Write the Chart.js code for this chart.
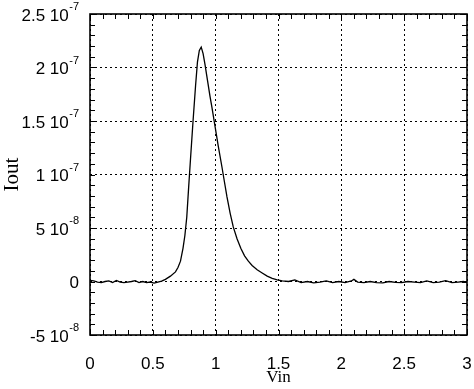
<!DOCTYPE html>
<html>
<head>
<meta charset="utf-8">
<script src="https://cdn.jsdelivr.net/npm/chart.js@4.4.1/dist/chart.umd.min.js"></script>
<style>
  html, body { margin: 0; padding: 0; background: #fff; }
  #wrap { width: 474px; height: 389px; }
</style>
</head>
<body>
<div id="wrap"><canvas id="c"></canvas></div>
<script>
// Vin (V) and Iout (nA, i.e. 1e-9 A)
const vin = [
  0.00, 0.03, 0.06, 0.09, 0.12, 0.15, 0.18, 0.21, 0.24, 0.27,
  0.30, 0.33, 0.36, 0.39, 0.42, 0.45, 0.48, 0.51, 0.54, 0.57,
  0.60, 0.64, 0.68, 0.70, 0.72, 0.74, 0.755, 0.77, 0.785, 0.80,
  0.82, 0.84, 0.855, 0.87, 0.885, 0.90, 0.915, 0.935, 0.955, 0.97,
  0.995, 1.02, 1.05, 1.07, 1.09, 1.115, 1.14, 1.17, 1.20, 1.23,
  1.26, 1.29, 1.33, 1.37, 1.41, 1.45, 1.49, 1.53, 1.58, 1.63,
  1.68, 1.73, 1.78, 1.83, 1.88, 1.93, 1.98, 2.03, 2.08, 2.10,
  2.13, 2.18, 2.23, 2.28, 2.33, 2.38, 2.43, 2.48, 2.53, 2.58,
  2.63, 2.68, 2.73, 2.78, 2.83, 2.88, 2.93, 2.97, 3.00
];
const iout = [
  1, 0.5, -0.5, -1, 0, 0.5, -1, 1, -0.5, -1,
  -0.5, 0, 0.8, -1, 0, -1, -0.5, -1.5, -0.5, 0.3,
  2, 5, 9, 13, 19, 31, 43, 60, 88, 115,
  150, 183, 205, 216, 219, 213, 203, 188, 173, 163,
  145, 127, 107, 93, 79, 64, 51, 40, 31, 24,
  19, 15, 11, 8, 5, 3, 1.5, 0.5, 0, 1.5,
  -1, 0, -1.2, -0.5, 0.5, -1, 0, -1, 0.5, 2,
  -0.5, -1, 0, -1, -1.2, 0, -0.8, -1, 0, -0.5,
  -1, 0.5, -1, -0.5, 0.8, -1, -0.5, 0, -0.5
];

// tick labels: x in tenths of a volt, y in nA -> mantissa + exponent
const xLabels = { 0: "0", 5: "0.5", 10: "1", 15: "1.5", 20: "2", 25: "2.5", 30: "3" };
const yMant = { 250: "2.5 10", 200: "2 10", 150: "1.5 10", 100: "1 10", 50: "5 10", 0: "0", "-50": "-5 10" };
const yExp  = { 250: "-7", 200: "-7", 150: "-7", 100: "-7", 50: "-8", 0: "", "-50": "-8" };

const points = vin.map((v, i) => ({ x: v, y: iout[i] }));

const TICK_FONT = "17px 'Liberation Sans', Arial, sans-serif";
const EXP_FONT = "11px 'Liberation Sans', Arial, sans-serif";

function xKey(v){ return Math.round(v * 10); }
function yKey(v){ return Math.round(v); }
function xMajor(v){ return xKey(v) % 5 === 0; }
function yMajor(v){ return yKey(v) % 50 === 0; }

// frame, inward minor ticks and tick labels
const framePlugin = {
  id: "frame",
  afterDatasetsDraw(chart){
    const { ctx, chartArea: a, scales } = chart;
    ctx.save();
    ctx.strokeStyle = "#000";
    ctx.lineWidth = 1;
    ctx.beginPath();
    scales.x.ticks.forEach(t => {
      const px = Math.round(scales.x.getPixelForValue(t.value)) + 0.5;
      ctx.moveTo(px, a.bottom); ctx.lineTo(px, a.bottom - 5);
      ctx.moveTo(px, a.top); ctx.lineTo(px, a.top + 5);
    });
    scales.y.ticks.forEach(t => {
      const py = Math.round(scales.y.getPixelForValue(t.value)) + 0.5;
      ctx.moveTo(a.left, py); ctx.lineTo(a.left + 5, py);
      ctx.moveTo(a.right, py); ctx.lineTo(a.right - 5, py);
    });
    ctx.stroke();
    ctx.lineWidth = 1.6;
    ctx.strokeRect(a.left, a.top, a.right - a.left, a.bottom - a.top);

    ctx.fillStyle = "#000";
    ctx.textBaseline = "middle";
    ctx.textAlign = "center";
    ctx.font = TICK_FONT;
    scales.x.ticks.forEach(t => {
      if (!xMajor(t.value)) return;
      ctx.fillText(xLabels[xKey(t.value)], scales.x.getPixelForValue(t.value), a.bottom + 29);
    });

    const rightEdge = a.left - 11;
    scales.y.ticks.forEach(t => {
      if (!yMajor(t.value)) return;
      const k = yKey(t.value);
      const py = scales.y.getPixelForValue(t.value);
      ctx.textAlign = "right";
      ctx.font = EXP_FONT;
      const ew = yExp[k] ? ctx.measureText(yExp[k]).width + 0.5 : 0;
      if (yExp[k]) ctx.fillText(yExp[k], rightEdge, py - 7);
      ctx.font = TICK_FONT;
      ctx.fillText(yMant[k], rightEdge - ew, py + 2);
    });
    ctx.restore();
  }
};

new Chart(document.getElementById("c"), {
  type: "line",
  data: {
    datasets: [{
      data: points,
      borderColor: "#000",
      borderWidth: 1.3,
      pointRadius: 0,
      tension: 0,
      fill: false
    }]
  },
  options: {
    responsive: true,
    maintainAspectRatio: false,
    animation: false,
    layout: { padding: { left: 0, right: 7, top: 14, bottom: 0 } },
    plugins: { legend: { display: false }, tooltip: { enabled: false } },
    scales: {
      x: {
        type: "linear",
        min: 0, max: 3,
        afterFit: s => { s.height = 54; },
        ticks: { display: false, stepSize: 0.1, maxTicksLimit: 100, autoSkip: false },
        grid: {
          drawTicks: false,
          color: c => (c.tick && xMajor(c.tick.value)) ? "#000" : "rgba(0,0,0,0)",
          lineWidth: 1
        },
        border: { display: false, dash: [2, 3] },
        title: {
          display: true,
          text: "Vin",
          color: "#000",
          font: { family: "'Liberation Serif', 'Times New Roman', serif", size: 17 },
          padding: { top: 0, bottom: 1 }
        }
      },
      y: {
        type: "linear",
        min: -50, max: 250,
        afterFit: s => { s.width = 90; },
        ticks: { display: false, stepSize: 10, maxTicksLimit: 100, autoSkip: false },
        grid: {
          drawTicks: false,
          color: c => (c.tick && yMajor(c.tick.value)) ? "#000" : "rgba(0,0,0,0)",
          lineWidth: 1
        },
        border: { display: false, dash: [2, 3] },
        title: {
          display: true,
          text: "Iout",
          color: "#000",
          font: { family: "'Liberation Serif', 'Times New Roman', serif", size: 21 },
          padding: { top: 0, bottom: 0 }
        }
      }
    }
  },
  plugins: [framePlugin]
});
</script>
</body>
</html>
